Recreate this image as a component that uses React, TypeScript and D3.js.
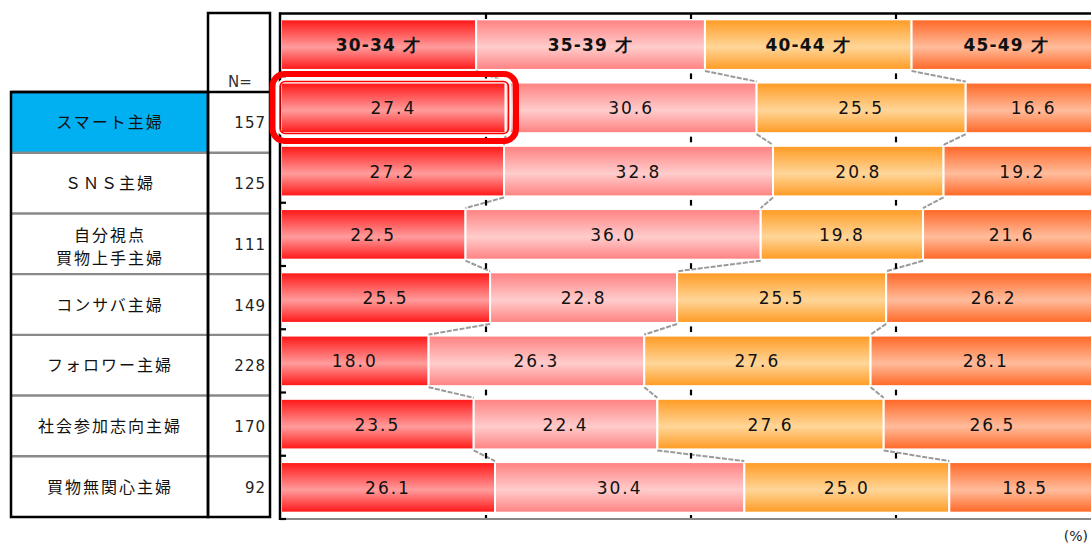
import React from "react";
import * as d3 from "d3";

const ageGroups = ["30-34 才", "35-39 才", "40-44 才", "45-49 才"];
const headerShares = [23.8, 27.9, 25.2, 23.1];
const segments = ["スマート主婦", "ＳＮＳ主婦", "自分視点\n買物上手主婦", "コンサバ主婦", "フォロワー主婦", "社会参加志向主婦", "買物無関心主婦"];
const sampleN = [157, 125, 111, 149, 228, 170, 92];
const age3034 = [27.4, 27.2, 22.5, 25.5, 18.0, 23.5, 26.1];
const age3539 = [30.6, 32.8, 36.0, 22.8, 26.3, 22.4, 30.4];
const age4044 = [25.5, 20.8, 19.8, 25.5, 27.6, 27.6, 25.0];
const age4549 = [16.6, 19.2, 21.6, 26.2, 28.1, 26.5, 18.5];
const xTicks = [25, 50, 75];

const W = 1091;
const H = 546;
const colors = [
  { edge: "#ff1414", mid: "#ff9c9c" },
  { edge: "#ff8080", mid: "#ffcccc" },
  { edge: "#ff9a22", mid: "#ffd699" },
  { edge: "#ff6624", mid: "#ffbc9c" },
];
const JP = "'Noto Sans CJK JP', 'Noto Sans', sans-serif";
const NUM = "'DejaVu Sans', Verdana, sans-serif";

export default function App() {
  const series = [age3034, age3539, age4044, age4549];
  const rowsData = [headerShares, ...segments.map((_, i) => series.map((s) => s[i]))];
  const keys = ["header", ...segments];

  const x = d3.scaleLinear().domain([0, 100]).range([281, 1101]);
  const y = d3.scaleBand<string>().domain(keys).range([13, 519]).paddingInner(0.2).paddingOuter(0.1);
  const ty = d3.scaleBand<string>().domain(segments).range([92, 517]);

  const cums = rowsData.map((vals) => {
    const c: number[] = [0];
    vals.forEach((v) => c.push(c[c.length - 1] + v));
    return c;
  });

  const bw = y.bandwidth();
  const step = y.step();
  const gap = step - bw;

  return (
    <svg width={W} height={H} style={{ position: "absolute", left: 0, top: 0, background: "#fff" }}>
      <defs>
        {colors.map((c, i) => (
          <linearGradient key={i} id={`g${i}`} x1="0" y1="0" x2="0" y2="1">
            <stop offset="0" stopColor={c.edge} />
            <stop offset="0.55" stopColor={c.mid} />
            <stop offset="1" stopColor={c.edge} />
          </linearGradient>
        ))}
      </defs>

      {/* table */}
      <rect x={11} y={92} width={197} height={60.7} fill="#00b0f0" />
      {segments.map((s, i) => {
        const y0 = ty(s)!;
        const cy = y0 + ty.bandwidth() / 2;
        const lines = s.split("\n");
        return (
          <g key={s}>
            {i > 0 && <line x1={11} x2={270} y1={y0} y2={y0} stroke="#8a8a8a" strokeWidth={2.4} />}
            {lines.map((l, k) => (
              <text
                key={k}
                x={110}
                y={lines.length === 1 ? cy + 6 : cy - 3 + k * 23}
                textAnchor="middle"
                fontFamily={JP}
                fontSize={16}
                letterSpacing={2}
                fill="#111"
              >
                {l}
              </text>
            ))}
            <text x={266} y={cy + 6} textAnchor="end" fontFamily={NUM} fontSize={15} letterSpacing={1} fill="#222">
              {sampleN[i]}
            </text>
          </g>
        );
      })}
      <text x={240} y={87} textAnchor="middle" fontFamily={NUM} fontSize={15} fill="#333">N=</text>
      <g fill="none" stroke="#000" strokeWidth={2.5}>
        <rect x={11} y={92} width={197} height={425} />
        <rect x={208} y={13} width={62} height={504} />
        <line x1={11} x2={270} y1={92} y2={92} />
      </g>

      {/* bars */}
      {rowsData.map((vals, r) => (
        <g key={keys[r]}>
          {vals.map((v, j) => {
            const x0 = x(cums[r][j]);
            const x1 = x(cums[r][j + 1]);
            const yy = y(keys[r])!;
            return (
              <g key={j}>
                <rect x={x0} y={yy} width={x1 - x0} height={bw} fill={`url(#g${j})`} stroke="#fff" strokeWidth={2} />
                <text
                  x={(x0 + x1) / 2}
                  y={yy + bw / 2 + 6.5}
                  textAnchor="middle"
                  fontFamily={NUM}
                  fontWeight={r === 0 ? 700 : 400}
                  fontSize={17}
                  letterSpacing={r === 0 ? 1.2 : 2}
                  fill="#111"
                >
                  {r === 0 ? ageGroups[j] : v.toFixed(1)}
                </text>
              </g>
            );
          })}
        </g>
      ))}

      {/* series lines */}
      {rowsData.slice(0, -1).map((_, r) => (
        <g key={r} stroke="#9a9a9a" strokeWidth={2} strokeDasharray="5,1.5">
          {[1, 2, 3].map((k) => (
            <line
              key={k}
              x1={x(cums[r][k])}
              y1={y(keys[r])! + bw + 1}
              x2={x(cums[r + 1][k])}
              y2={y(keys[r + 1])! - 1}
            />
          ))}
        </g>
      ))}

      {/* gap ticks */}
      {keys.slice(0, -1).map((k) => {
        const gy = y(k)! + bw;
        return (
          <g key={k} stroke="#000" strokeWidth={2.2}>
            {xTicks.map((t) => (
              <line key={t} x1={x(t)} x2={x(t)} y1={gy + 3.5} y2={gy + gap - 3.5} />
            ))}
          </g>
        );
      })}
      <g stroke="#000" strokeWidth={2.2}>
        {xTicks.map((t) => (
          <g key={t}>
            <line x1={x(t)} x2={x(t)} y1={13} y2={19} />
            <line x1={x(t)} x2={x(t)} y1={515} y2={519} />
          </g>
        ))}
      </g>

      {/* axes */}
      <line x1={280} x2={W} y1={519} y2={519} stroke="#888" strokeWidth={2.2} />
      <line x1={279} x2={W} y1={13.5} y2={13.5} stroke="#000" strokeWidth={2.5} />
      <line x1={280} x2={280} y1={12.5} y2={520} stroke="#000" strokeWidth={2.5} />
      <g stroke="#000" strokeWidth={2.2}>
        {keys.slice(0, -1).map((k) => {
          const my = y(k)! + bw + gap / 2;
          return <line key={k} x1={280} x2={286} y1={my} y2={my} />;
        })}
        <line x1={280} x2={286} y1={519} y2={519} />
      </g>

      {/* highlight */}
      <rect x={272.5} y={74} width={243.5} height={67} rx={12} fill="none" stroke="#ff0000" strokeWidth={6} />
      <rect x={278.5} y={80} width={231.5} height={55} rx={7} fill="none" stroke="#fff" strokeWidth={3} />
      <rect x={280} y={81.5} width={228.5} height={52} rx={5} fill="none" stroke="#ff0000" strokeWidth={1.5} />

      <text x={1088} y={541} textAnchor="end" fontFamily={NUM} fontSize={14} fill="#222">(%)</text>
    </svg>
  );
}
